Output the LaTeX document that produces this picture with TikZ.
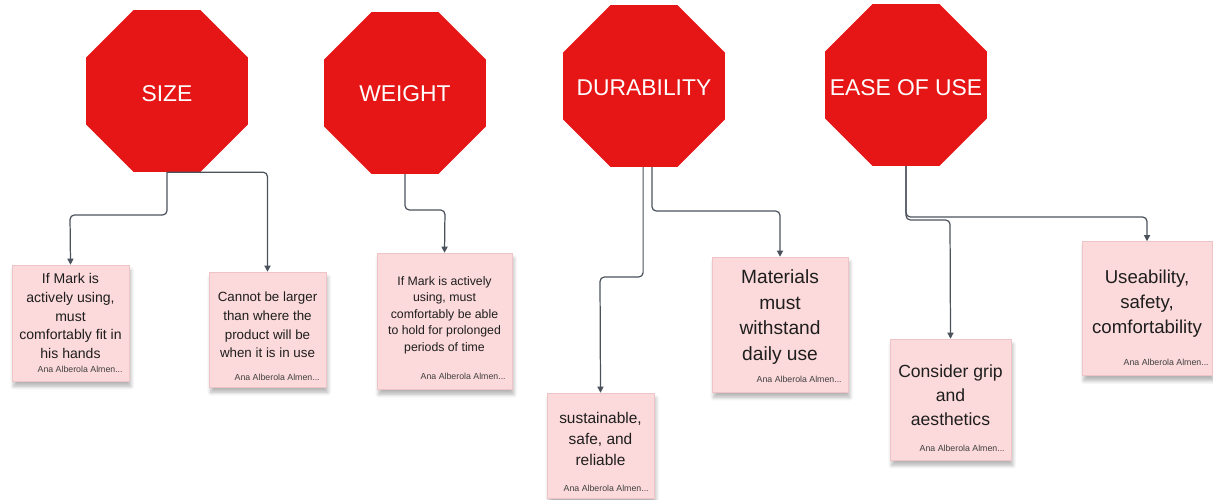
\documentclass[tikz,border=0pt]{standalone}
\usepackage{fontspec}
\setmainfont{Liberation Sans}
\usetikzlibrary{shapes.geometric}
\usetikzlibrary{arrows.meta}
\usetikzlibrary{shadows.blur}
\definecolor{stopred}{RGB}{231,22,22}
\definecolor{notepink}{RGB}{252,217,218}
\definecolor{noteedge}{RGB}{238,196,198}
\definecolor{linkgray}{RGB}{75,82,92}
\definecolor{inkgray}{RGB}{30,30,30}
\begin{document}
\begin{tikzpicture}[x=0.02cm,y=-0.02cm,
	stop/.style={regular polygon,regular polygon sides=8,fill=stopred,minimum size=3.5cm,inner sep=0pt},
	stoptext/.style={text=white,font=\fontsize{13}{15}\selectfont,inner sep=0pt},
	note/.style n args={2}{fill=notepink,draw=noteedge,line width=0.3pt,minimum width=#1*0.02cm,minimum height=#2*0.02cm,blur shadow={shadow xshift=1pt,shadow yshift=-3pt,shadow blur steps=6,shadow opacity=30}},
	body/.style={align=center,text=inkgray,inner sep=0pt},
	author/.style={text=inkgray!85,font=\fontsize{5}{6}\selectfont,inner sep=0pt,anchor=east},
	link/.style={draw=linkgray,line width=0.7pt,rounded corners=2.5pt,-{Triangle[length=3.5pt,width=3.5pt]}}]
	\useasboundingbox (0,0) rectangle (1213,500);

	\node[stop] (size) at (167,91) {};
	\node[stop] (weight) at (405,93) {};
	\node[stop] (durability) at (644,86) {};
	\node[stop] (ease) at (906,85) {};
	\node[stoptext] (size-text) at (167,94) {SIZE};
	\node[stoptext] (weight-text) at (405,94) {WEIGHT};
	\node[stoptext] (durability-text) at (644,88) {DURABILITY};
	\node[stoptext] (ease-text) at (906,88) {EASE OF USE};

	\node[note={117}{116}] (n1) at (70.5,323) {};
	\node[note={117}{115}] (n2) at (267.5,329.5) {};
	\node[note={135}{136}] (n3) at (444.5,321) {};
	\node[note={107}{105}] (n4) at (600.5,445.5) {};
	\node[note={136}{135}] (n5) at (780,324.5) {};
	\node[note={121}{121}] (n6) at (950.5,399.5) {};
	\node[note={130}{134}] (n7) at (1147,308.5) {};

	\node[body,font=\fontsize{8}{10.6}\selectfont] (t1) at (70.5,316) {If Mark is\\actively using,\\must\\comfortably fit in\\his hands};
	\node[body,font=\fontsize{7.6}{10.7}\selectfont] (t2) at (267.5,325) {Cannot be larger\\than where the\\product will be\\when it is in use};
	\node[body,font=\fontsize{7}{9.4}\selectfont] (t3) at (444.5,315) {If Mark is actively\\using, must\\comfortably be able\\to hold for prolonged\\periods of time};
	\node[body,font=\fontsize{8.8}{12.2}\selectfont] (t4) at (600.5,439) {sustainable,\\safe, and\\reliable};
	\node[body,font=\fontsize{10.9}{14.7}\selectfont] (t5) at (780,317) {Materials\\must\\withstand\\daily use};
	\node[body,font=\fontsize{10}{13.6}\selectfont] (t6) at (950.5,395) {Consider grip\\and\\aesthetics};
	\node[body,font=\fontsize{10.6}{14.3}\selectfont] (t7) at (1147,304) {Useability,\\safety,\\comfortability};

	\node[author] (a1) at (123,369) {Ana Alberola Almen...};
	\node[author] (a2) at (320,377) {Ana Alberola Almen...};
	\node[author] (a3) at (506,376) {Ana Alberola Almen...};
	\node[author] (a4) at (649,488) {Ana Alberola Almen...};
	\node[author] (a5) at (842,379) {Ana Alberola Almen...};
	\node[author] (a6) at (1005,448) {Ana Alberola Almen...};
	\node[author] (a7) at (1209,362) {Ana Alberola Almen...};

	\coordinate (b1) at (70,215);
	\coordinate (b3) at (445,210);
	\coordinate (b4) at (600,277);
	\coordinate (b5) at (780,211);
	\coordinate (b6) at (950,220);
	\coordinate (b7) at (1147,217);

	\draw[link] (size.south) |- (b1) -- (n1.north);
	\draw[link] (size.south) -| (n2.north);
	\draw[link] (weight.south) |- (b3) -- (n3.north);
	\draw[link] ([xshift=-0.5pt]durability.south) |- (b4) -- (n4.north);
	\draw[link] ([xshift=4.5pt]durability.south) |- (b5) -- (n5.north);
	\draw[link] (ease.south) |- (b6) -- (n6.north);
	\draw[link] (ease.south) |- (b7) -- (n7.north);
\end{tikzpicture}
\end{document}
